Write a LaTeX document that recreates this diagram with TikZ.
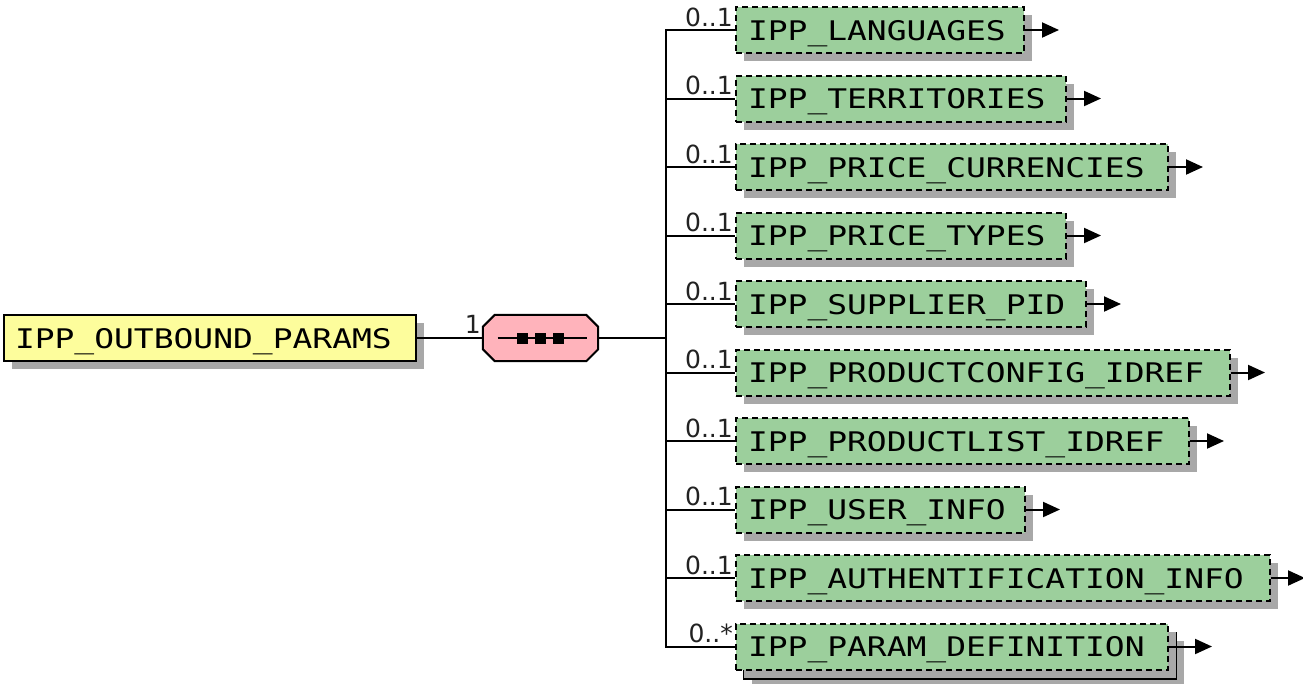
\documentclass[tikz,border=0pt]{standalone}
\usepackage{fontspec}
\usetikzlibrary{shadows,arrows.meta}
\newfontfamily\boxfont{DejaVu Sans Mono}[FakeStretch=1.22]
\newfontfamily\lblfont{DejaVu Sans}
\definecolor{elgreen}{HTML}{9CCF9C}
\definecolor{rootyellow}{HTML}{FDFD9C}
\definecolor{seqpink}{HTML}{FFB3BB}
\definecolor{shadowc}{HTML}{A8A8A8}
\definecolor{cardc}{HTML}{222222}
\begin{document}
\begin{tikzpicture}[x=1pt,y=-1pt,
  shad/.style={general shadow={fill=shadowc, shadow xshift=8pt, shadow yshift=-8pt}},
  boxbase/.style={shad, anchor=west, minimum height=46pt, inner xsep=12pt, inner ysep=0pt,
    text height=20pt, text depth=0pt,
    align=left, font=\boxfont\fontsize{27}{27}\selectfont, text=black},
  elem/.style={boxbase, draw=black, line width=2pt, dash pattern=on 6pt off 4pt, fill=elgreen, text width=#1},
  rootbox/.style={boxbase, draw=black, line width=2pt, fill=rootyellow, inner xsep=11pt, text width=#1},
  backbox/.style={boxbase, draw=black, line width=2pt, fill=white, text width=#1},
  conn/.style={draw=black, line width=2pt},
  arr/.style={conn, -{Triangle[length=17pt,width=15pt]}},
  card/.style={font=\lblfont\fontsize{25}{25}\selectfont, text=cardc, anchor=base east, inner sep=0pt}
]
\useasboundingbox (0,0) rectangle (1303,683);

% root
\node[rootbox=390pt] (root) at (3,338) {IPP\_OUTBOUND\_PARAMS};

% sequence compositor
\node[minimum width=115pt, minimum height=46pt, inner sep=0pt] (seq) at (540.5,338) {};
\fill[shadowc, shift={(8,8)}]
  ([xshift=12pt]seq.north west) -- ([xshift=-12pt]seq.north east) -- ([yshift=-12pt]seq.north east)
  -- ([yshift=12pt]seq.south east) -- ([xshift=-12pt]seq.south east) -- ([xshift=12pt]seq.south west)
  -- ([yshift=12pt]seq.south west) -- ([yshift=-12pt]seq.north west) -- cycle;
\filldraw[fill=seqpink, draw=black, line width=2pt]
  ([xshift=12pt]seq.north west) -- ([xshift=-12pt]seq.north east) -- ([yshift=-12pt]seq.north east)
  -- ([yshift=12pt]seq.south east) -- ([xshift=-12pt]seq.south east) -- ([xshift=12pt]seq.south west)
  -- ([yshift=12pt]seq.south west) -- ([yshift=-12pt]seq.north west) -- cycle;
\draw[line width=2pt] ([xshift=-43pt]seq.center) -- ([xshift=46pt]seq.center);
\foreach \dx in {-18,0,18}
  \fill[black] ([xshift=\dx pt]seq.center) ++(-5.5,-5.5) rectangle ++(11,11);
\node[card] (seqcard) at (481,333) {1};

% elements
\node[elem=264pt] (e0) at (735,30)   {IPP\_LANGUAGES};
\node[elem=306pt] (e1) at (735,98.5) {IPP\_TERRITORIES};
\node[elem=408pt] (e2) at (735,167)  {IPP\_PRICE\_CURRENCIES};
\node[elem=306pt] (e3) at (735,235.5){IPP\_PRICE\_TYPES};
\node[elem=326pt] (e4) at (735,304)  {IPP\_SUPPLIER\_PID};
\node[elem=470pt] (e5) at (735,372.5){IPP\_PRODUCTCONFIG\_IDREF};
\node[elem=429pt] (e6) at (735,441)  {IPP\_PRODUCTLIST\_IDREF};
\node[elem=265pt] (e7) at (735,509.5){IPP\_USER\_INFO};
\node[elem=510pt] (e8) at (735,578)  {IPP\_AUTHENTIFICATION\_INFO};
\node[backbox=408pt] (e9back) at (743,655.5) {\phantom{IPP\_PARAM\_DEFINITION}};
\node[elem=408pt] (e9) at (735,646.5){IPP\_PARAM\_DEFINITION};

% cardinalities
\foreach \i in {0,...,8}
  \node[card] (c\i) at ([xshift=-2pt,yshift=4pt]e\i.west) {0..1};
\node[card] (c9) at ([xshift=-2pt,yshift=4pt]e9.west) {0..*};

% connectors
\coordinate (busx) at (666,338);
\draw[conn] (root.east) -- (seq.west);
\draw[conn] (seq.east) -- (busx);
\draw[conn, line cap=rect] (busx |- e0.west) -- (busx |- e9.west);
\foreach \i in {0,...,9}
  \draw[conn] (busx |- e\i.west) -- (e\i.west);

% arrows
\foreach \i in {0,...,8}{
  \coordinate (t\i) at ([xshift=34pt]e\i.east);
  \draw[arr] (e\i.east) -- (t\i);
}
\coordinate (t9) at ([xshift=43pt]e9.east);
\draw[arr] (e9.east) -- (t9);
\end{tikzpicture}
\end{document}
